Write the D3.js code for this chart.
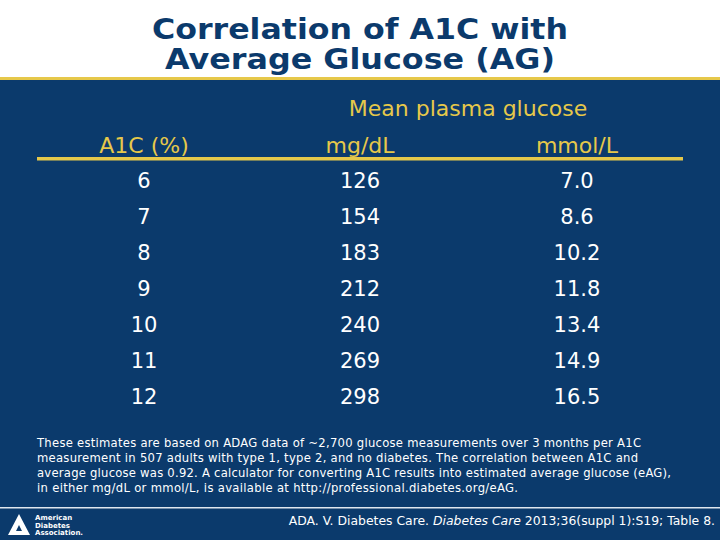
<!DOCTYPE html>
<html><head><meta charset="utf-8">
<script src="https://cdn.jsdelivr.net/npm/d3@7"></script>
<style>body{margin:0;}svg{display:block;font-family:"DejaVu Sans",Verdana,sans-serif;}</style>
</head><body><div id="c"></div>
<script>
const a1c = ["6","7","8","9","10","11","12"];
const mgdl = ["126","154","183","212","240","269","298"];
const mmol = ["7.0","8.6","10.2","11.8","13.4","14.9","16.5"];
const headers = ["A1C (%)","mg/dL","mmol/L"];
const notes = [
 "These estimates are based on ADAG data of ~2,700 glucose measurements over 3 months per A1C",
 "measurement in 507 adults with type 1, type 2, and no diabetes. The correlation between A1C and",
 "average glucose was 0.92. A calculator for converting A1C results into estimated average glucose (eAG),",
 "in either mg/dL or mmol/L, is available at http://professional.diabetes.org/eAG."];
const noteLens=[604,601,634,481];

const W=720,H=540, navy="#0b3a6c", gold="#e6c84a";
const svg=d3.select("#c").append("svg").attr("width",W).attr("height",H);
svg.append("rect").attr("width",W).attr("height",H).attr("fill","#fff");
svg.append("rect").attr("y",80).attr("width",W).attr("height",H-80).attr("fill",navy);
svg.append("rect").attr("y",77).attr("width",W).attr("height",3).attr("fill",gold);
svg.append("rect").attr("y",507).attr("width",W).attr("height",1.5).attr("fill","#dfe6ee");

svg.selectAll(".t").data(["Correlation of A1C with","Average Glucose (AG)"]).join("text")
 .attr("x",360).attr("y",(d,i)=>39+i*30).attr("text-anchor","middle")
 .attr("font-size",28).attr("font-weight","bold").attr("fill","#0b3a6c")
 .attr("textLength",(d,i)=>[416,390][i]).attr("lengthAdjust","spacingAndGlyphs").text(d=>d);

const y=d3.scaleBand().domain(a1c).range([162,414]);
const cx=[144,360,577];

svg.append("text").attr("x",468).attr("y",116).attr("text-anchor","middle")
 .attr("font-size",22).attr("fill",gold).text("Mean plasma glucose");
svg.selectAll(".h").data(headers).join("text")
 .attr("x",(d,i)=>cx[i]).attr("y",153).attr("text-anchor","middle")
 .attr("font-size",22).attr("fill",gold).text(d=>d);
svg.append("rect").attr("x",37).attr("y",157).attr("width",646).attr("height",3.5).attr("fill",gold);

[a1c,mgdl,mmol].forEach((col,ci)=>{
 svg.selectAll(".c"+ci).data(col).join("text")
  .attr("x",cx[ci]).attr("y",(d,i)=>y(a1c[i])+y.bandwidth()/2+7.5)
  .attr("text-anchor","middle").attr("font-size",21).attr("fill","#fff").text(d=>d);
});

svg.selectAll(".n").data(notes).join("text")
 .attr("x",37).attr("y",(d,i)=>447+i*15).attr("font-size",11.6)
 .attr("textLength",(d,i)=>noteLens[i]).attr("lengthAdjust","spacing")
 .attr("fill","#fff").text(d=>d);

const cit=svg.append("text").attr("x",715).attr("y",525).attr("text-anchor","end")
 .attr("font-size",12.4).attr("fill","#fff");
cit.append("tspan").text("ADA. V. Diabetes Care. ");
cit.append("tspan").attr("font-style","italic").text("Diabetes Care");
cit.append("tspan").text(" 2013;36(suppl 1):S19; Table 8.");

const g=svg.append("g").attr("transform","translate(8,514)");
g.append("path").attr("d","M0,21 L11,0 L22,21 L16,21 L11,11 L6,21 Z").attr("fill","#fff");
g.append("path").attr("d","M4,21 L18,21 L16,17 L6,17 Z").attr("fill","#fff");
g.selectAll("text").data(["American","Diabetes","Association."]).join("text")
 .attr("x",27).attr("y",(d,i)=>6+i*7.5).attr("font-size",7).attr("font-weight","bold")
 .attr("fill","#fff").text(d=>d);
</script></body></html>
